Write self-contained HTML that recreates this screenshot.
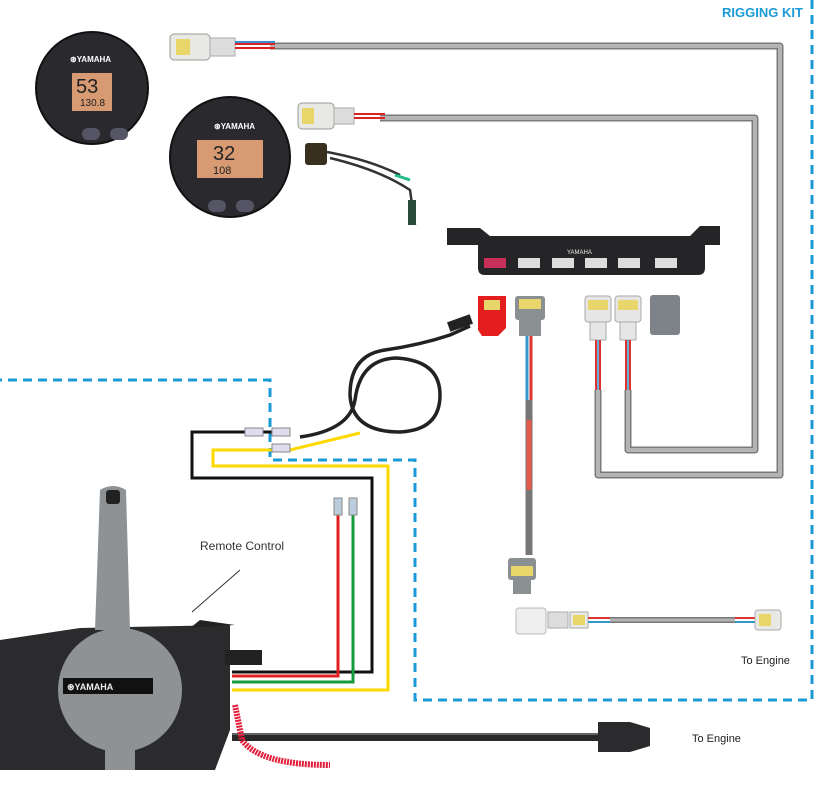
<!DOCTYPE html>
<html><head><meta charset="utf-8"><style>
html,body{margin:0;padding:0;background:#fff;width:827px;height:793px;overflow:hidden}
svg{display:block}
text{font-family:"Liberation Sans",sans-serif}
</style></head><body>
<svg width="827" height="793" viewBox="0 0 827 793" xmlns="http://www.w3.org/2000/svg">
<!-- dashed rigging kit border -->
<g fill="none" stroke="#1b9ad8" stroke-width="3" stroke-dasharray="9,6">
<path d="M812 0 V700 H415 V460 H270 V380 H0"/>
</g>
<text x="722" y="17" font-size="13" font-weight="bold" fill="#1b9ad8">RIGGING KIT</text>

<!-- gray cables -->
<g fill="none" stroke="#7a7a7a" stroke-width="7" stroke-linejoin="round">
<path d="M270 46 H780 V475 H598 V390"/>
<path d="M380 118 H755 V450 H628 V390"/>
</g>
<g fill="none" stroke="#b4b4b4" stroke-width="4" stroke-linejoin="round">
<path d="M270 46 H780 V475 H598 V390"/>
<path d="M380 118 H755 V450 H628 V390"/>
</g>
<!-- connectors top -->
<rect x="170" y="34" width="40" height="26" rx="4" fill="#e8e8e4" stroke="#999"/>
<rect x="176" y="39" width="14" height="16" fill="#e8d66a"/>
<rect x="210" y="38" width="25" height="18" fill="#ddd" stroke="#aaa"/>
<path d="M235 44 H275 M235 48 H275" stroke="#d22" stroke-width="2"/>
<path d="M235 42 H275" stroke="#3a8fd8" stroke-width="2"/>
<rect x="298" y="103" width="36" height="26" rx="4" fill="#e8e8e4" stroke="#999"/>
<rect x="302" y="108" width="12" height="16" fill="#e8d66a"/>
<rect x="334" y="108" width="20" height="16" fill="#ddd" stroke="#aaa"/>
<path d="M354 114 H385 M354 118 H385" stroke="#d22" stroke-width="2"/>
<!-- small harness -->
<rect x="305" y="143" width="22" height="22" rx="3" fill="#3a3020"/>
<path d="M327 152 Q370 160 400 175 M330 158 Q380 170 410 190 L415 225" stroke="#333" stroke-width="2.5" fill="none"/>
<path d="M395 175 L410 180" stroke="#2b8" stroke-width="3"/>
<rect x="408" y="200" width="8" height="25" fill="#2a4a3a"/>

<!-- gauges -->
<g>
<circle cx="92" cy="88" r="56" fill="#2a2a2e" stroke="#111" stroke-width="2"/>
<text x="70" y="62" font-size="8" font-weight="bold" fill="#fff">⊛YAMAHA</text>
<rect x="72" y="73" width="40" height="38" fill="#d79a72"/>
<text x="76" y="93" font-size="20" fill="#222">53</text>
<text x="80" y="106" font-size="10" fill="#222">130.8</text>
<rect x="82" y="128" width="18" height="12" rx="6" fill="#556"/>
<rect x="110" y="128" width="18" height="12" rx="6" fill="#556"/>
</g>
<g>
<circle cx="230" cy="157" r="60" fill="#2a2a2e" stroke="#111" stroke-width="2"/>
<text x="214" y="129" font-size="8" font-weight="bold" fill="#fff">⊛YAMAHA</text>
<rect x="197" y="140" width="66" height="38" fill="#d79a72"/>
<text x="213" y="160" font-size="20" fill="#222">32</text>
<text x="213" y="174" font-size="11" fill="#222">108</text>
<rect x="208" y="200" width="18" height="12" rx="6" fill="#556"/>
<rect x="236" y="200" width="18" height="12" rx="6" fill="#556"/>
</g>

<!-- hub -->
<path d="M447 228 H480 L490 236 H690 L700 226 H720 V245 H705 V268 Q705 275 698 275 H485 Q478 275 478 268 V245 H447 Z" fill="#252527"/>
<rect x="484" y="258" width="22" height="10" fill="#c8305a"/>
<rect x="518" y="258" width="22" height="10" fill="#ddd"/>
<rect x="552" y="258" width="22" height="10" fill="#ddd"/>
<rect x="585" y="258" width="22" height="10" fill="#ddd"/>
<rect x="618" y="258" width="22" height="10" fill="#ddd"/>
<rect x="655" y="258" width="22" height="10" fill="#ddd"/>
<text x="567" y="254" font-size="6" fill="#eee">YAMAHA</text>

<!-- connectors under hub -->
<path d="M478 296 H506 V328 L498 336 H482 L478 330 Z" fill="#e41e1e"/>
<rect x="484" y="300" width="16" height="10" fill="#e8d66a"/>
<rect x="515" y="296" width="30" height="24" rx="3" fill="#8a8f92"/>
<rect x="519" y="299" width="22" height="10" fill="#e8d66a"/>
<rect x="519" y="318" width="22" height="18" fill="#8a8f92"/>
<rect x="585" y="296" width="26" height="26" rx="3" fill="#e6e6e6" stroke="#aaa"/>
<rect x="588" y="300" width="20" height="10" fill="#e8d66a"/>
<rect x="590" y="322" width="16" height="18" fill="#e6e6e6" stroke="#aaa"/>
<rect x="615" y="296" width="26" height="26" rx="3" fill="#e6e6e6" stroke="#aaa"/>
<rect x="618" y="300" width="20" height="10" fill="#e8d66a"/>
<rect x="620" y="322" width="16" height="18" fill="#e6e6e6" stroke="#aaa"/>
<rect x="650" y="295" width="30" height="40" rx="3" fill="#7d8388"/>
<path d="M596 340 V390 M600 340 V390 M626 340 V390 M630 340 V390" stroke="#d33" stroke-width="2"/>
<path d="M598 340 V390 M628 340 V390" stroke="#39c" stroke-width="1.5"/>

<!-- red/blue harness down -->
<path d="M527 336 V400" stroke="#39c" stroke-width="3"/>
<path d="M531 336 V400" stroke="#d33" stroke-width="3"/>
<path d="M529 400 V500" stroke="#777" stroke-width="7"/>
<path d="M529 420 V490" stroke="#e35a4a" stroke-width="5"/>
<path d="M529 500 V555" stroke="#777" stroke-width="7"/>
<rect x="508" y="558" width="28" height="22" rx="3" fill="#8a8f92"/>
<rect x="511" y="566" width="22" height="10" fill="#e8d66a"/>
<rect x="513" y="580" width="18" height="14" fill="#8a8f92"/>
<!-- to engine harness -->
<rect x="516" y="608" width="30" height="26" rx="3" fill="#eee" stroke="#bbb"/>
<rect x="548" y="612" width="20" height="16" fill="#ddd" stroke="#aaa"/>
<rect x="570" y="612" width="18" height="16" fill="#e8e8e4" stroke="#aaa"/>
<rect x="573" y="615" width="12" height="10" fill="#e8d66a"/>
<path d="M588 618 H610" stroke="#d33" stroke-width="2"/>
<path d="M588 622 H610" stroke="#39c" stroke-width="2"/>
<path d="M610 620 H735" stroke="#777" stroke-width="6"/>
<path d="M610 620 H735" stroke="#b4b4b4" stroke-width="3"/>
<path d="M735 618 H755" stroke="#d33" stroke-width="2"/>
<path d="M735 622 H755" stroke="#39c" stroke-width="2"/>
<rect x="755" y="610" width="26" height="20" rx="3" fill="#e8e8e4" stroke="#aaa"/>
<rect x="759" y="614" width="12" height="12" fill="#e8d66a"/>
<text x="741" y="664" font-size="11" fill="#222">To Engine</text>

<!-- coiled cable -->
<path d="M470 326 L450 335 Q420 345 385 350 Q350 355 350 395 Q352 432 400 432 Q440 430 440 395 Q440 360 395 358 Q360 360 355 400 Q350 430 300 437" fill="none" stroke="#222" stroke-width="3.5"/>
<rect x="448" y="318" width="24" height="10" fill="#222" transform="rotate(-20 460 323)"/>

<!-- wires -->
<path d="M290 432 H192 V478 H372 V672 H232" fill="none" stroke="#111" stroke-width="3"/>
<path d="M360 433 L290 450 H213 V466 H388 V690 H232" fill="none" stroke="#ffd800" stroke-width="3"/>
<path d="M338 515 V676 H232" fill="none" stroke="#e02020" stroke-width="3"/>
<path d="M353 515 V682 H232" fill="none" stroke="#139b3c" stroke-width="3"/>
<rect x="334" y="498" width="8" height="17" fill="#bcd" stroke="#888"/>
<rect x="349" y="498" width="8" height="17" fill="#bcd" stroke="#888"/>
<rect x="245" y="428" width="18" height="8" fill="#dde" stroke="#888"/>
<rect x="272" y="444" width="18" height="8" fill="#dde" stroke="#888"/>
<rect x="272" y="428" width="18" height="8" fill="#dde" stroke="#888"/>

<!-- remote control -->
<path d="M0 640 L80 628 L230 625 L230 730 L215 770 L0 770 Z" fill="#2b2b2d"/>
<path d="M190 628 L200 620 L235 625 L190 628Z" fill="#222"/>
<path d="M100 490 Q113 482 126 490 L130 630 L95 630 Z" fill="#8e9295"/>
<rect x="106" y="490" width="14" height="14" rx="3" fill="#222"/>
<circle cx="120" cy="690" r="62" fill="#8e9295"/>
<rect x="105" y="740" width="30" height="30" fill="#8e9295"/>
<rect x="63" y="678" width="90" height="16" fill="#111"/>
<text x="67" y="690" font-size="9" font-weight="bold" fill="#eee">⊛YAMAHA</text>
<path d="M225 650 H262 V665 H225 Z" fill="#222"/>
<path d="M192 612 L240 570" stroke="#333" stroke-width="1"/>
<text x="200" y="550" font-size="12" fill="#333">Remote Control</text>
<!-- engine cable -->
<path d="M232 737 H598" stroke="#2a2a2a" stroke-width="8"/>
<path d="M232 734 H598" stroke="#777" stroke-width="1.5"/>
<path d="M598 722 H630 L650 728 V746 L630 752 H598 Z" fill="#2b2b2d"/>
<text x="692" y="742" font-size="11" fill="#222">To Engine</text>
<!-- lanyard -->
<path d="M235 705 L242 740 Q260 765 330 765" stroke="#e41e3a" stroke-width="6" fill="none" stroke-dasharray="2,1"/>
</svg>
</body></html>
